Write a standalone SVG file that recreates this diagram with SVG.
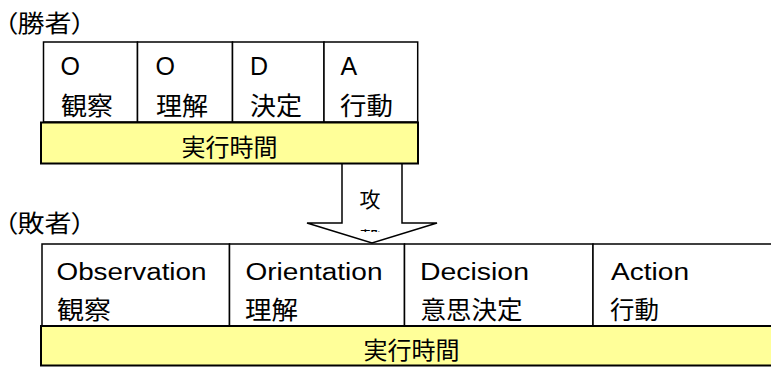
<svg xmlns="http://www.w3.org/2000/svg" width="771" height="367" viewBox="0 0 771 367">
<style>
  .cell { fill: #ffffff; stroke: #000000; stroke-width: 1.5; }
  .bar { fill: #ffff99; stroke: #000000; stroke-width: 2; }
  .arrow { fill: #ffffff; stroke: #000000; stroke-width: 1.5; stroke-linejoin: miter; }
  .jp { font-family: "Noto Sans CJK JP", "Noto Sans CJK SC", sans-serif; fill: #000000; }
  .lat { font-family: "Liberation Sans", "Noto Sans", sans-serif; fill: #000000; }
  .lbl { font-size: 24px; font-feature-settings: "palt"; }
  .tc { font-size: 25px; }
  .tl { font-size: 25px; }
  .bc { font-size: 25px; }
  .bl { font-size: 23px; }
  .time { font-size: 24px; text-anchor: middle; }
</style>
<defs>
  <clipPath id="atkclip" clipPathUnits="userSpaceOnUse"><rect x="340" y="166" width="64" height="66"/></clipPath>
</defs>

<g id="connectors">
  <g id="attack-arrow">
    <polygon class="arrow" points="342,163 402,163 402,223 437,223 372,243 307,223 342,223"/>
    <text class="jp" x="370" y="207" font-size="21" text-anchor="middle">攻</text>
    <g clip-path="url(#atkclip)">
      <text class="jp" x="370" y="247" font-size="21" text-anchor="middle">撃</text>
    </g>
  </g>
</g>

<g id="winner-label">
  <text class="jp lbl" x="4" y="32" textLength="81" lengthAdjust="spacingAndGlyphs">（勝者）</text>
</g>

<g id="w-observe">
  <rect class="cell" x="43.5" y="42" width="94" height="80"/>
  <text class="lat tl" x="60.5" y="74.5">O</text>
  <text class="jp tc" x="61" y="115" textLength="52" lengthAdjust="spacingAndGlyphs">観察</text>
</g>
<g id="w-orient">
  <rect class="cell" x="137.5" y="42" width="95" height="80"/>
  <text class="lat tl" x="155.5" y="74.5">O</text>
  <text class="jp tc" x="156" y="115" textLength="52" lengthAdjust="spacingAndGlyphs">理解</text>
</g>
<g id="w-decide">
  <rect class="cell" x="232.5" y="42" width="91.5" height="80"/>
  <text class="lat tl" x="250" y="74.5">D</text>
  <text class="jp tc" x="250" y="115" textLength="52" lengthAdjust="spacingAndGlyphs">決定</text>
</g>
<g id="w-act">
  <rect class="cell" x="324" y="42" width="93.7" height="80"/>
  <text class="lat tl" x="340.5" y="74.5">A</text>
  <text class="jp tc" x="340" y="115" textLength="53" lengthAdjust="spacingAndGlyphs">行動</text>
</g>
<g id="w-time">
  <rect class="bar" x="41" y="122.5" width="377" height="41"/>
  <text class="jp time" x="229.5" y="156" font-size="23">実行時間</text>
</g>

<g id="loser-label">
  <text class="jp lbl" x="4" y="232" textLength="81" lengthAdjust="spacingAndGlyphs">（敗者）</text>
</g>

<g id="l-observe">
  <rect class="cell" x="42" y="244" width="187.5" height="82"/>
  <text class="lat bl" x="56.5" y="280" textLength="150" lengthAdjust="spacingAndGlyphs">Observation</text>
  <text class="jp bc" x="57" y="318.5" textLength="54" lengthAdjust="spacingAndGlyphs">観察</text>
</g>
<g id="l-orient">
  <rect class="cell" x="229.5" y="244" width="175" height="82"/>
  <text class="lat bl" x="245.5" y="280" textLength="137" lengthAdjust="spacingAndGlyphs">Orientation</text>
  <text class="jp bc" x="245" y="318.5" textLength="53" lengthAdjust="spacingAndGlyphs">理解</text>
</g>
<g id="l-decide">
  <rect class="cell" x="404.5" y="244" width="188.5" height="82"/>
  <text class="lat bl" x="420" y="280" textLength="109" lengthAdjust="spacingAndGlyphs">Decision</text>
  <text class="jp bc" x="420.5" y="318.5" textLength="102" lengthAdjust="spacingAndGlyphs">意思決定</text>
</g>
<g id="l-act">
  <rect class="cell" x="593" y="244" width="190" height="82"/>
  <text class="lat bl" x="611" y="280" textLength="78" lengthAdjust="spacingAndGlyphs">Action</text>
  <text class="jp bc" x="610" y="318.5" textLength="49" lengthAdjust="spacingAndGlyphs">行動</text>
</g>
<g id="l-time">
  <rect class="bar" x="41" y="326" width="742" height="39.5"/>
  <text class="jp time" x="411.5" y="358.5">実行時間</text>
</g>
</svg>
